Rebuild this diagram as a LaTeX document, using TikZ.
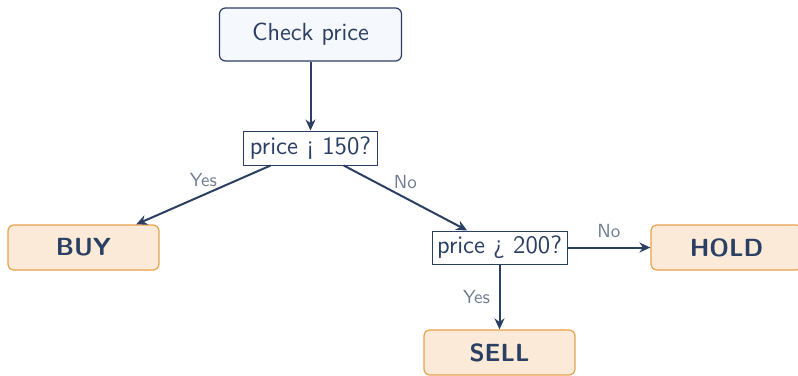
\documentclass[tikz,border=0pt]{standalone}
\usetikzlibrary{arrows.meta}
\renewcommand{\familydefault}{\sfdefault}
\definecolor{ink}{HTML}{2B3F63}
\definecolor{lbl}{HTML}{6E7B91}
\definecolor{startfill}{HTML}{F5F8FC}
\definecolor{actfill}{HTML}{FAEAD7}
\definecolor{actdraw}{HTML}{E8A04E}
\tikzset{
  startbox/.style={draw=ink, fill=startfill, rounded corners=3pt, line width=0.6pt,
    minimum width=91pt, minimum height=26.5pt, inner sep=0pt, text=ink, font=\fontsize{12.4}{14}\selectfont},
  decbox/.style={draw=ink, fill=white, line width=0.5pt,
    minimum width=67pt, minimum height=17pt, inner sep=0pt, text=ink, font=\fontsize{12.6}{14}\selectfont},
  actbox/.style={draw=actdraw, fill=actfill, rounded corners=3pt, line width=0.6pt,
    minimum width=75.5pt, minimum height=22.5pt, inner sep=0pt, text=ink, font=\fontsize{12.4}{14}\selectfont\bfseries},
  conn/.style={draw=ink, line width=1pt, -{Stealth[length=5.5pt,width=5pt]}},
  edgelbl/.style={text=lbl, font=\fontsize{9.5}{11}\selectfont, inner sep=0pt}
}
\begin{document}
\begin{tikzpicture}[x=0.5pt,y=-0.5pt]
\useasboundingbox (0,0) rectangle (798,375);
\node[startbox] (start) at (310.5,34.5) {Check price};
\node[decbox] (d1) at (310.5,148) {price ¡ 150?};
\node[actbox] (buy) at (83.5,247.5) {BUY};
\node[decbox, minimum width=67.5pt, minimum height=16.5pt] (d2) at (499.5,247.5) {price ¿ 200?};
\node[actbox] (hold) at (726.5,247.5) {HOLD};
\node[actbox] (sell) at (499.5,352.5) {SELL};
\draw[conn] (start) -- (d1);
\draw[conn] (d1) -- node[edgelbl, midway, yshift=7.5pt] {Yes} (buy);
\draw[conn] (d1) -- node[edgelbl, midway, yshift=8pt] {No} (d2);
\draw[conn] (d2) -- node[edgelbl, midway, yshift=8pt] {No} (hold);
\draw[conn] (d2) -- node[edgelbl, midway, xshift=-11.5pt] {Yes} (sell);
\end{tikzpicture}
\end{document}
